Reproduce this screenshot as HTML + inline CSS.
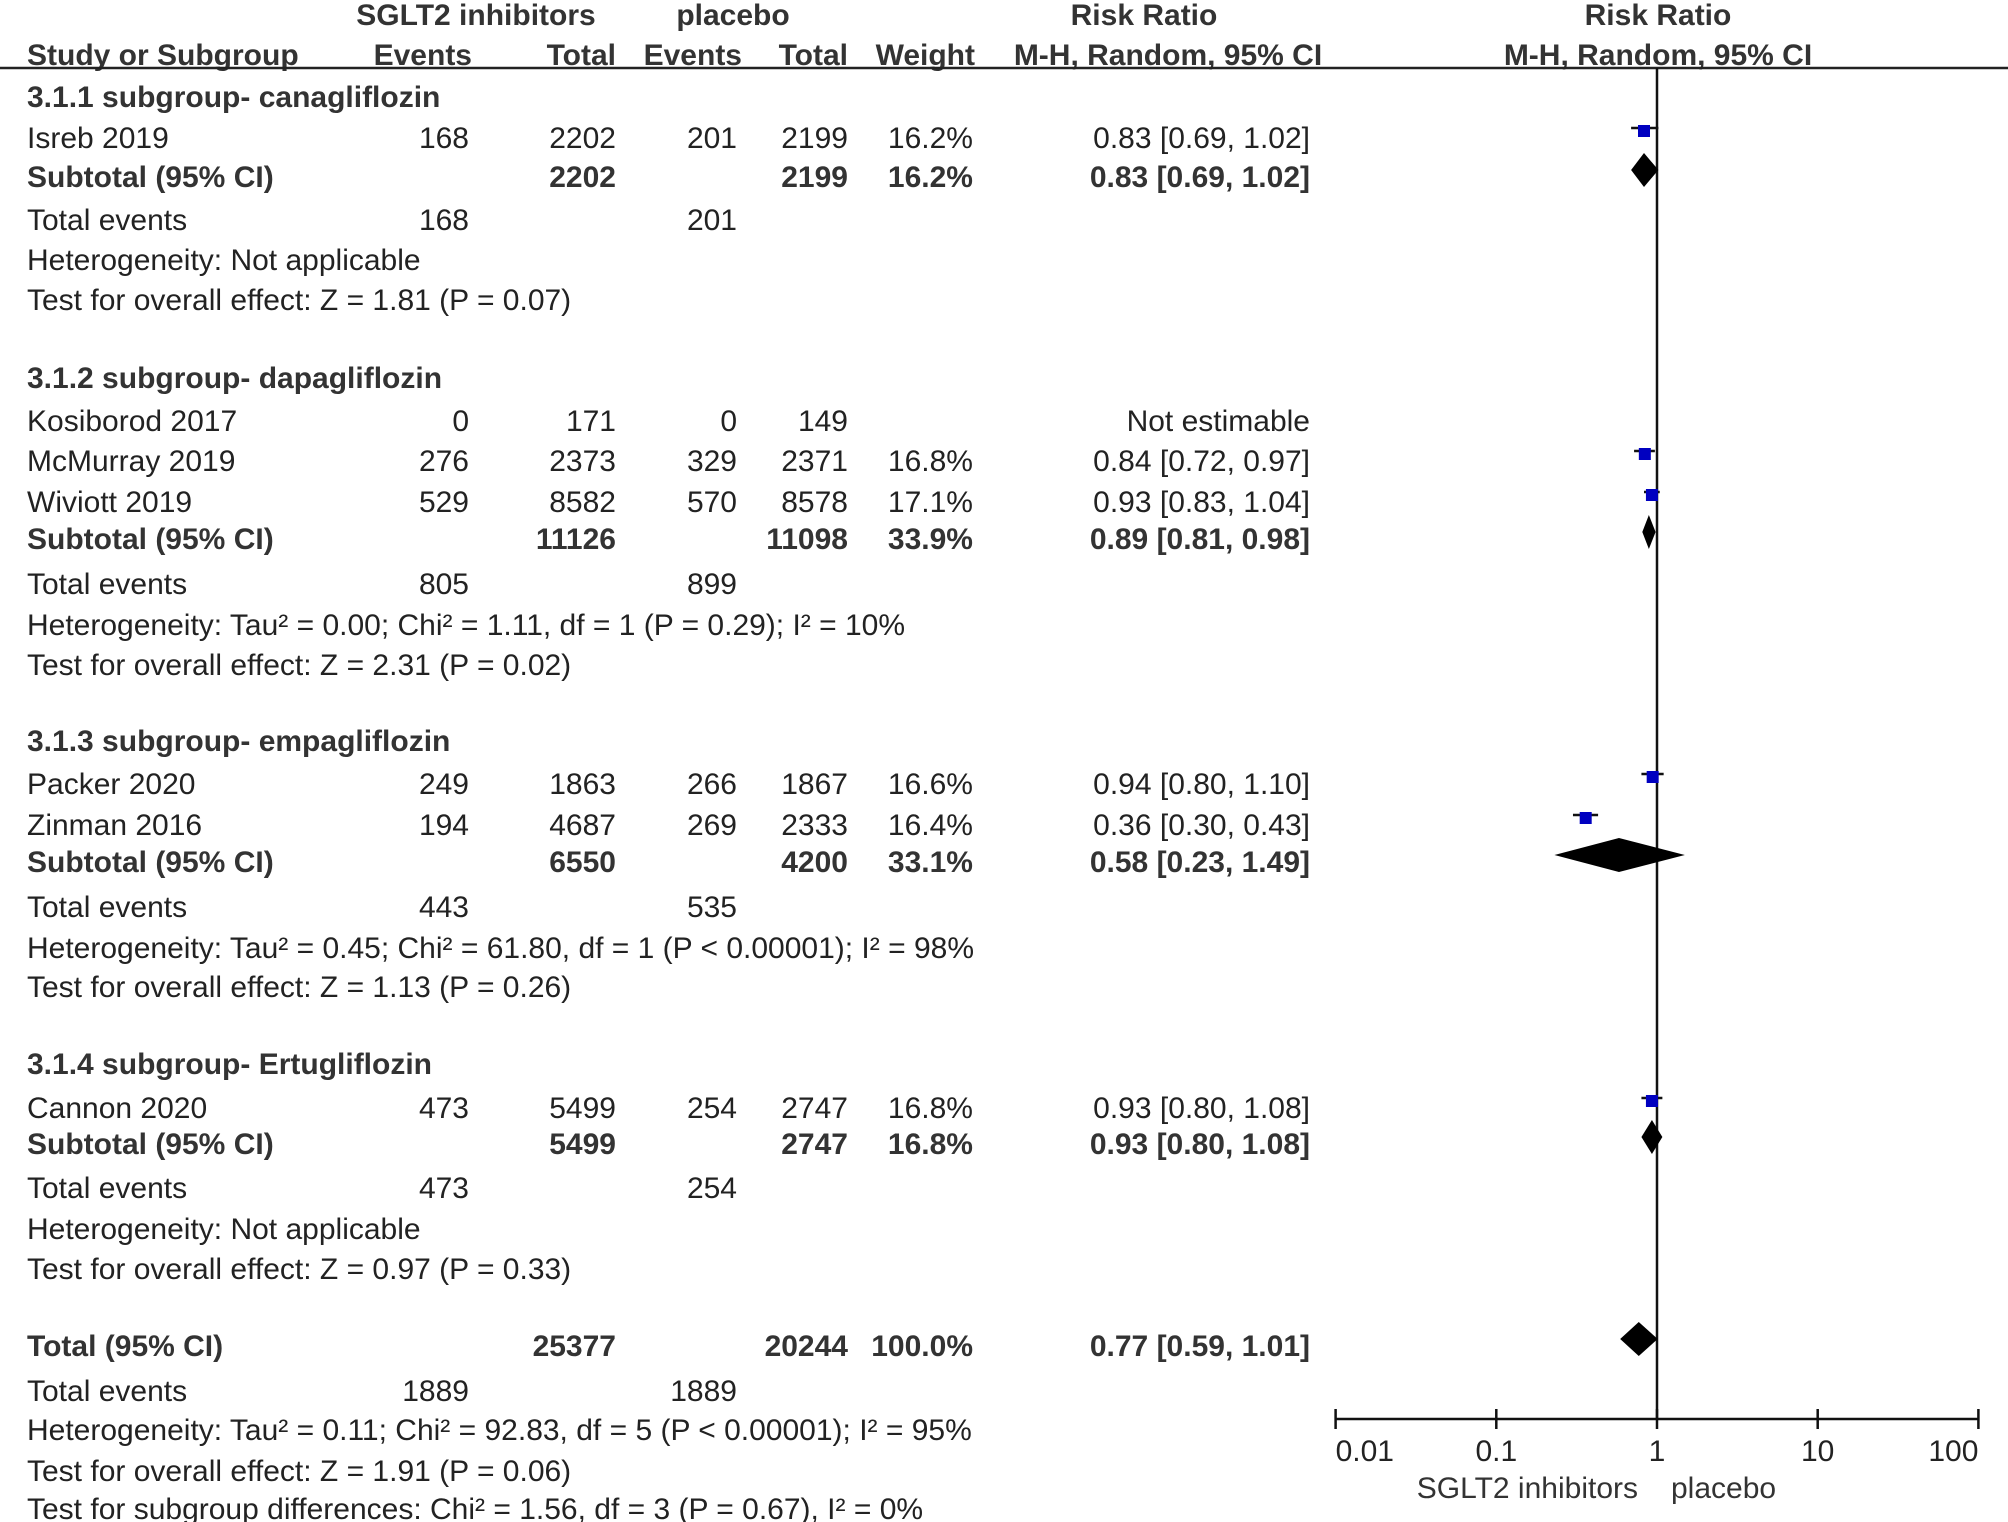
<!DOCTYPE html>
<html><head><meta charset="utf-8"><style>
html,body{margin:0;padding:0;background:#fff;}
svg{display:block;}
text{font-family:"Liberation Sans",Arial,sans-serif;font-size:30px;fill:#222;}
.b{font-weight:bold;fill:#333;}
</style></head><body>
<svg id="fp" width="2008" height="1522" viewBox="0 0 2008 1522">
<g>
<text class="b" x="476" y="25" text-anchor="middle">SGLT2 inhibitors</text>
<text class="b" x="733" y="25" text-anchor="middle">placebo</text>
<text class="b" x="1144" y="25" text-anchor="middle">Risk Ratio</text>
<text class="b" x="1658" y="25" text-anchor="middle">Risk Ratio</text>
<text class="b" x="27" y="65">Study or Subgroup</text>
<text class="b" x="472" y="65" text-anchor="end">Events</text>
<text class="b" x="616" y="65" text-anchor="end">Total</text>
<text class="b" x="742" y="65" text-anchor="end">Events</text>
<text class="b" x="848" y="65" text-anchor="end">Total</text>
<text class="b" x="975" y="65" text-anchor="end">Weight</text>
<text class="b" x="1168" y="65" text-anchor="middle">M-H, Random, 95% CI</text>
<text class="b" x="1658" y="65" text-anchor="middle">M-H, Random, 95% CI</text>
</g>
<line x1="0" y1="68" x2="2008" y2="68" stroke="#222" stroke-width="2.5"/>
<g id="rows"></g>
<g id="plot"></g>
</svg>
<script>
// rows: [y, label, e1, n1, e2, n2, weight, rr, bold]
const rowData = [
 [97,"3.1.1 subgroup- canagliflozin","","","","","","",1],
 [138,"Isreb 2019","168","2202","201","2199","16.2%","0.83 [0.69, 1.02]",0],
 [177,"Subtotal (95% CI)","","2202","","2199","16.2%","0.83 [0.69, 1.02]",1],
 [220,"Total events","168","","201","","","",0],
 [260,"Heterogeneity: Not applicable","","","","","","",0],
 [300,"Test for overall effect: Z = 1.81 (P = 0.07)","","","","","","",0],
 [378,"3.1.2 subgroup- dapagliflozin","","","","","","",1],
 [421,"Kosiborod 2017","0","171","0","149","","Not estimable",0],
 [461,"McMurray 2019","276","2373","329","2371","16.8%","0.84 [0.72, 0.97]",0],
 [502,"Wiviott 2019","529","8582","570","8578","17.1%","0.93 [0.83, 1.04]",0],
 [539,"Subtotal (95% CI)","","11126","","11098","33.9%","0.89 [0.81, 0.98]",1],
 [584,"Total events","805","","899","","","",0],
 [625,"Heterogeneity: Tau² = 0.00; Chi² = 1.11, df = 1 (P = 0.29); I² = 10%","","","","","","",0],
 [665,"Test for overall effect: Z = 2.31 (P = 0.02)","","","","","","",0],
 [741,"3.1.3 subgroup- empagliflozin","","","","","","",1],
 [784,"Packer  2020","249","1863","266","1867","16.6%","0.94 [0.80, 1.10]",0],
 [825,"Zinman 2016","194","4687","269","2333","16.4%","0.36 [0.30, 0.43]",0],
 [862,"Subtotal (95% CI)","","6550","","4200","33.1%","0.58 [0.23, 1.49]",1],
 [907,"Total events","443","","535","","","",0],
 [948,"Heterogeneity: Tau² = 0.45; Chi² = 61.80, df = 1 (P < 0.00001); I² = 98%","","","","","","",0],
 [987,"Test for overall effect: Z = 1.13 (P = 0.26)","","","","","","",0],
 [1064,"3.1.4 subgroup- Ertugliflozin","","","","","","",1],
 [1108,"Cannon 2020","473","5499","254","2747","16.8%","0.93 [0.80, 1.08]",0],
 [1144,"Subtotal (95% CI)","","5499","","2747","16.8%","0.93 [0.80, 1.08]",1],
 [1188,"Total events","473","","254","","","",0],
 [1229,"Heterogeneity: Not applicable","","","","","","",0],
 [1269,"Test for overall effect: Z = 0.97 (P = 0.33)","","","","","","",0],
 [1346,"Total (95% CI)","","25377","","20244","100.0%","0.77 [0.59, 1.01]",1],
 [1391,"Total events","1889","","1889","","","",0],
 [1430,"Heterogeneity: Tau² = 0.11; Chi² = 92.83, df = 5 (P < 0.00001); I² = 95%","","","","","","",0],
 [1471,"Test for overall effect: Z = 1.91 (P = 0.06)","","","","","","",0],
 [1509,"Test for subgroup differences: Chi² = 1.56, df = 3 (P = 0.67), I² = 0%","","","","","","",0]
];
// study estimates
const studyNames = ["Isreb 2019","McMurray 2019","Wiviott 2019","Packer 2020","Zinman 2016","Cannon 2020"];
const studyY = [138,461,502,784,825,1108];
const studyRR = [0.83,0.84,0.93,0.94,0.36,0.93];
const studyLo = [0.69,0.72,0.83,0.80,0.30,0.80];
const studyHi = [1.02,0.97,1.04,1.10,0.43,1.08];
// pooled estimates
const poolNames = ["subtotal-canagliflozin","subtotal-dapagliflozin","subtotal-empagliflozin","subtotal-ertugliflozin","total"];
const poolY = [177,539,862,1144,1346];
const poolRR = [0.83,0.89,0.58,0.93,0.77];
const poolLo = [0.69,0.81,0.23,0.80,0.59];
const poolHi = [1.02,0.98,1.49,1.08,1.01];
const tickValues = [0.01,0.1,1,10,100];
const tickLabels = ["0.01","0.1","1","10","100"];

const NS="http://www.w3.org/2000/svg";
const X0=1657, DEC=160.7, AXY=1419;
function xs(v){return X0+DEC*Math.log10(v);}
function mk(tag,attrs,parent){const e=document.createElementNS(NS,tag);for(const k in attrs)e.setAttribute(k,attrs[k]);parent.appendChild(e);return e;}
const rows=document.getElementById('rows'), plot=document.getElementById('plot');
const colX=[469,616,737,848,973,1310];
rowData.forEach((r)=>{
  const y=r[0]+10, cls=r[8]?'b':'';
  const t=mk('text',{x:27,y:y,class:cls},rows); t.textContent=r[1];
  
  
  for(let i=0;i<6;i++){
    if(!r[i+2])continue;
    const c=mk('text',{x:colX[i],y:y,'text-anchor':'end',class:cls},rows); c.textContent=r[i+2];
    
    
  }
});
const nl=mk('line',{x1:X0,y1:68,x2:X0,y2:AXY,stroke:'#111','stroke-width':2.5},plot);


const ax=mk('line',{x1:xs(0.01),y1:AXY,x2:xs(100),y2:AXY,stroke:'#111','stroke-width':2.5},plot);


tickValues.forEach((v,i)=>{
  const x=xs(v);
  const tk=mk('line',{x1:x,y1:AXY-10,x2:x,y2:AXY+10,stroke:'#111','stroke-width':2.5},plot);
  
  
  const anchor=i===0?'start':(i===tickValues.length-1?'end':'middle');
  const tl=mk('text',{x:x,y:AXY+42,'text-anchor':anchor},plot); tl.textContent=tickLabels[i];
  
  
});
const l1=mk('text',{x:1638,y:1498,'text-anchor':'end',style:'fill:#333'},plot); l1.textContent='SGLT2 inhibitors';


const l2=mk('text',{x:1671,y:1498,style:'fill:#333'},plot); l2.textContent='placebo';


studyRR.forEach((v,i)=>{
  const y=studyY[i]-7;
  const ci=mk('line',{x1:xs(studyLo[i]),y1:y-3,x2:xs(studyHi[i]),y2:y-3,stroke:'#111','stroke-width':2.5},plot);
  
  
  const sq=mk('rect',{x:xs(v)-6,y:y-6,width:12,height:12,fill:'#0000c0'},plot);
  
  
});
poolRR.forEach((v,i)=>{
  const y=poolY[i]-7, h=17;
  const d=mk('polygon',{points:`${xs(poolLo[i])},${y} ${xs(v)},${y-h} ${xs(poolHi[i])},${y} ${xs(v)},${y+h}`,fill:'#000'},plot);
  
  
});
</script>
</body></html>
